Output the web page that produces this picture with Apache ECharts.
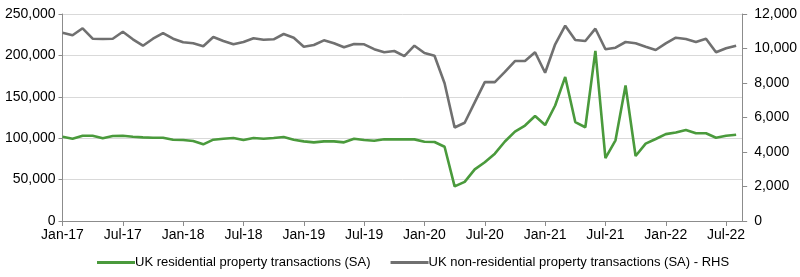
<!DOCTYPE html>
<html>
<head>
<meta charset="utf-8">
<script src="https://cdn.jsdelivr.net/npm/echarts@6/dist/echarts.min.js"></script>
<style>
html,body{margin:0;padding:0;background:#fff;}
#chart{width:800px;height:277px;}
</style>
</head>
<body>
<div id="chart"></div>
<script>
const months = [
 'Jan-17','Feb-17','Mar-17','Apr-17','May-17','Jun-17','Jul-17','Aug-17','Sep-17','Oct-17','Nov-17','Dec-17',
 'Jan-18','Feb-18','Mar-18','Apr-18','May-18','Jun-18','Jul-18','Aug-18','Sep-18','Oct-18','Nov-18','Dec-18',
 'Jan-19','Feb-19','Mar-19','Apr-19','May-19','Jun-19','Jul-19','Aug-19','Sep-19','Oct-19','Nov-19','Dec-19',
 'Jan-20','Feb-20','Mar-20','Apr-20','May-20','Jun-20','Jul-20','Aug-20','Sep-20','Oct-20','Nov-20','Dec-20',
 'Jan-21','Feb-21','Mar-21','Apr-21','May-21','Jun-21','Jul-21','Aug-21','Sep-21','Oct-21','Nov-21','Dec-21',
 'Jan-22','Feb-22','Mar-22','Apr-22','May-22','Jun-22','Jul-22','Aug-22'
];
const tickLabels = ['Jan-17','Jul-17','Jan-18','Jul-18','Jan-19','Jul-19','Jan-20','Jul-20','Jan-21','Jul-21','Jan-22','Jul-22'];
const residential = [
 101800, 99400,103000,103000, 99900,102600,103000,101800,101000,100600,100600, 98200,
  97800, 96600, 92600, 98200, 99400,100200, 97800,100200, 99400,100200,101400, 98200,
  96200, 95000, 96200, 96200, 95000, 99400, 97800, 97000, 98800, 98600, 98600, 98600,
  95800, 95400, 89700, 41800, 47300, 62400, 71000, 81300, 96000,108000,115300,126800,
 115900,139500,174000,119500,113200,205500, 76000, 97400,163600, 78500, 93400, 99000,
 104900,106900,109900,105900,105900,100600,103000,104200
];
const nonResidential = [
 10916,10765,11171,10568,10551,10568,10974,10533,10162,10568,10898,10568,
 10359,10301,10127,10666,10435,10243,10377,10591,10510,10533,10840,10626,
 10104,10203,10475,10301,10069,10261,10243, 9960, 9780, 9855, 9560,10162,
  9739, 9582, 7983, 5420, 5698, 6881, 8050, 8050, 8640, 9275, 9275, 9780,
  8597,10243,11322,10493,10435,11148, 9954,10046,10377,10301,10104, 9913,
 10301,10626,10551,10377,10568, 9780,10011,10162
];
const seriesNames = ['UK residential property transactions (SA)','UK non-residential property transactions (SA) - RHS'];

const axisColor = '#8c8c8c';
const font = 'Liberation Sans, Arial, sans-serif';
const chart = echarts.init(document.getElementById('chart'), null, {renderer:'canvas'});
chart.setOption({
  animation:false,
  grid:{left:62.5,right:55,top:14,bottom:56,containLabel:false},
  legend:{
    left:92, top:251, itemWidth:38, itemHeight:3, itemGap:20, icon:'rect',
    textStyle:{fontFamily:font,fontSize:13,color:'#000',padding:[0,0,0,-5]},
    data:seriesNames
  },
  xAxis:{
    type:'value', min:0, max:67.6, interval:6,
    axisLine:{show:true,lineStyle:{color:axisColor,width:1}},
    axisTick:{show:true,length:5,inside:false,lineStyle:{color:axisColor}},
    splitLine:{show:false},
    axisLabel:{
      showMaxLabel:false, margin:7, fontFamily:font, fontSize:14, color:'#000',
      formatter:function(v){ const i=Math.round(v/6); return (Math.abs(v-i*6)<0.01 && tickLabels[i])?tickLabels[i]:''; }
    }
  },
  yAxis:[
    {
      type:'value', min:0, max:250000, interval:50000,
      axisLine:{show:true,lineStyle:{color:axisColor}},
      axisTick:{show:true,length:4,lineStyle:{color:axisColor}},
      splitLine:{show:true,lineStyle:{color:'#d9d9d9',width:1}},
      axisLabel:{margin:7,fontFamily:font,fontSize:14,color:'#000',
        formatter:function(v){return v.toLocaleString('en-US');}}
    },
    {
      type:'value', min:0, max:12000, interval:2000, position:'right',
      axisLine:{show:true,lineStyle:{color:axisColor}},
      axisTick:{show:true,length:5,lineStyle:{color:axisColor}},
      splitLine:{show:false},
      axisLabel:{margin:12,fontFamily:font,fontSize:14,color:'#000',
        formatter:function(v){return v.toLocaleString('en-US');}}
    }
  ],
  series:[
    {
      name:seriesNames[0], type:'line', yAxisIndex:0, symbol:'none',
      lineStyle:{color:'#4a9a3c',width:2.6}, itemStyle:{color:'#4a9a3c'},
      data:residential.map(function(v,i){return [i,v];}), z:3
    },
    {
      name:seriesNames[1], type:'line', yAxisIndex:1, symbol:'none',
      lineStyle:{color:'#707070',width:2.6}, itemStyle:{color:'#707070'},
      data:nonResidential.map(function(v,i){return [i,v];}), z:2
    }
  ]
});
</script>
</body>
</html>
